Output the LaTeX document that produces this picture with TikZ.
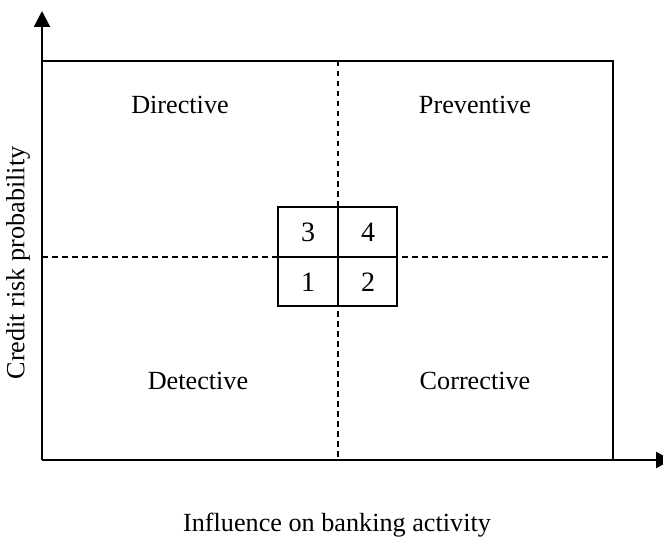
\documentclass[tikz,border=0pt]{standalone}
\usepackage{fontspec}
\setmainfont{Liberation Serif}
\usetikzlibrary{arrows.meta}
\begin{document}
\begin{tikzpicture}[x=1pt,y=-1pt,
  lbl/.style={font=\fontsize{26.2}{29}\selectfont, inner sep=0pt},
  num/.style={font=\fontsize{28}{30}\selectfont, inner sep=0pt},
  axisline/.style={line width=2.2pt, -{Triangle[length=16pt,width=16pt]}},
  frame/.style={line width=2.2pt},
  dashline/.style={line width=1.4pt, dash pattern=on 5.5pt off 4.5pt},
  cell/.style={line width=1.8pt}]
\useasboundingbox (0,0) rectangle (663,540);
% coordinates
\coordinate (O) at (42,460);
\coordinate (Ytip) at (42,11);
\coordinate (Xtip) at (672,460);
\coordinate (TL) at (42,61);
\coordinate (TR) at (613,61);
\coordinate (BR) at (613,460);
\coordinate (Vt) at (338,61);
\coordinate (Vb) at (338,460);
\coordinate (Hl) at (42,257);
\coordinate (Hr) at (613,257);
% dashed quadrant lines
\draw[dashline] (Vt) -- (Vb);
\draw[dashline] (Hl) -- (Hr);
% frame
\draw[frame] (TL) -- (TR) -- (BR);
% axes
\draw[axisline] (O) -- (Ytip);
\draw[axisline] (O) -- (Xtip);
% centre grid
\coordinate (g1) at (278,207);
\coordinate (g2) at (397,306);
\draw[cell, fill=white] (g1) rectangle (g2);
\draw[cell] (338,207) -- (338,306);
\draw[cell] (278,257) -- (397,257);
\node[num] (n3) at (308,232) {3};
\node[num] (n4) at (368,232) {4};
\node[num] (n1) at (308,282) {1};
\node[num] (n2) at (368,282) {2};
% quadrant labels
\node[lbl] (dir) at (180,105) {Directive};
\node[lbl] (pre) at (475,105) {Preventive};
\node[lbl] (det) at (198,381) {Detective};
\node[lbl] (cor) at (475,381) {Corrective};
% axis labels
\node[lbl, rotate=90] (ylab) at (18,263) {Credit risk probability};
\node[lbl] (xlab) at (337,525) {Influence on banking activity};
\end{tikzpicture}
\end{document}
